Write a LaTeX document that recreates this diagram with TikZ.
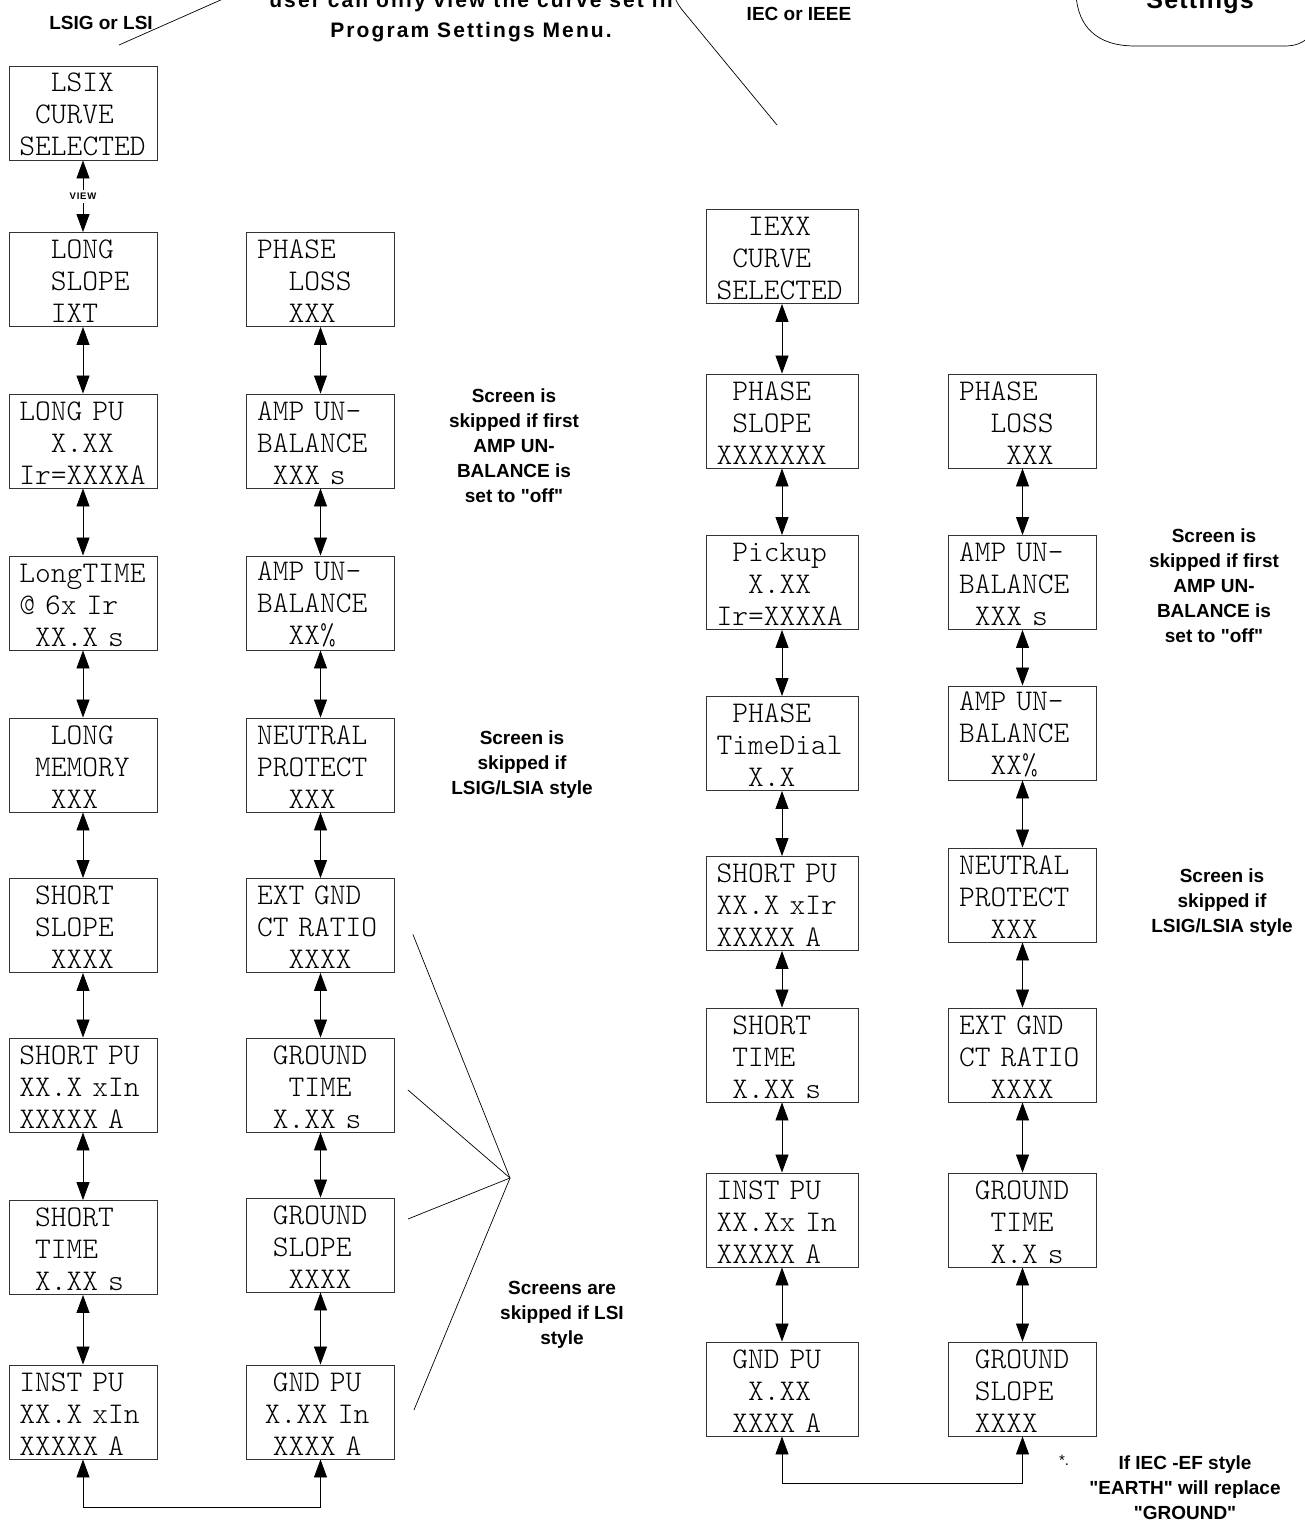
\documentclass[tikz,border=0pt]{standalone}
\usepackage{fontspec}
\usepackage{tikz}
\usetikzlibrary{positioning, calc, arrows.meta}
\newfontfamily\notefont{Liberation Sans}
\newlength\lcdch
\setlength\lcdch{15.75pt}
\newcommand\lcdind[1]{\hspace*{#1\lcdch}}
\newcommand\lcdfont{\fontsize{30}{32}\selectfont\fontseries{l}\ttfamily}
\newcommand\lcdtop{\rule{0pt}{22.3pt}}

\begin{document}
\begin{tikzpicture}[x=1pt, y=-1pt,
    box/.style={draw=black!80, line width=0.9pt, minimum height=94pt, inner ysep=0pt,
                inner xsep=10.5pt, text width=127pt, align=left, font=\lcdfont},
    wide/.style={text width=131pt},
    note/.style={align=center, inner sep=0pt, font=\notefont\bfseries\fontsize{19}{25}\selectfont},
    lnk/.style={{Triangle[length=18pt,width=13pt]}-{Triangle[length=18pt,width=13pt]}, line width=0.8pt},
    ptr/.style={line width=0.7pt},
    viewlbl/.style={fill=white, inner sep=3pt,
                    font=\notefont\bfseries\fontsize{9.5}{10}\selectfont\addfontfeature{LetterSpace=8}}]
  \fill[white] (0,0) rectangle (1305,1522);
  \useasboundingbox (0,0) rectangle (1305,1522);

  \node[note, anchor=south, font=\notefont\bfseries\fontsize{21}{30}\selectfont\addfontfeature{LetterSpace=10}]
        (menu) at (471,42) {user can only view the curve set in\\Program Settings Menu.};
  \node[note] (lsig) at (101,23) {LSIG or LSI};
  \node[note] (iec) at (799,14) {IEC or IEEE};
  \node[note, anchor=base, font=\notefont\bfseries\fontsize{25}{30}\selectfont\addfontfeature{LetterSpace=5}]
        (sett) at (1200,9) {Settings};

  \node[box] (lsix)   at (83,113)    {\lcdtop\lcdind{2}LSIX\\\lcdind{1}CURVE\\SELECTED};
  \node[box] (lslope) at (83,279.5)  {\lcdtop\lcdind{2}LONG\\\lcdind{2}SLOPE\\\lcdind{2}IXT};
  \node[box] (lpu)    at (83,441)    {\lcdtop LONG PU\\\lcdind{2}X.XX\\Ir=XXXXA};
  \node[box] (ltime)  at (83,603)    {\lcdtop LongTIME\\@ 6x Ir\\\lcdind{1}XX.X s};
  \node[box] (lmem)   at (83,765)    {\lcdtop\lcdind{2}LONG\\\lcdind{1}MEMORY\\\lcdind{2}XXX};
  \node[box] (sslope) at (83,925.5)  {\lcdtop\lcdind{1}SHORT\\\lcdind{1}SLOPE\\\lcdind{2}XXXX};
  \node[box] (spu)    at (83,1085)   {\lcdtop SHORT PU\\XX.X xIn\\XXXXX A};
  \node[box] (stime)  at (83,1247.5) {\lcdtop\lcdind{1}SHORT\\\lcdind{1}TIME\\\lcdind{1}X.XX s};
  \node[box] (ipu)    at (83,1412)   {\lcdtop INST PU\\XX.X xIn\\XXXXX A};

  \node[box] (ploss)  at (320.5,279.5) {\lcdtop PHASE\\\lcdind{2}LOSS\\\lcdind{2}XXX};
  \node[box] (aub1)   at (320.5,441)   {\lcdtop AMP UN-\\BALANCE\\\lcdind{1}XXX s};
  \node[box] (aub2)   at (320.5,603)   {\lcdtop AMP UN-\\BALANCE\\\lcdind{2}XX\%};
  \node[box] (neut)   at (320.5,765)   {\lcdtop NEUTRAL\\PROTECT\\\lcdind{2}XXX};
  \node[box] (extct)  at (320.5,925.5) {\lcdtop EXT GND\\CT RATIO\\\lcdind{2}XXXX};
  \node[box] (gtime)  at (320.5,1085)  {\lcdtop\lcdind{1}GROUND\\\lcdind{2}TIME\\\lcdind{1}X.XX s};
  \node[box] (gslope) at (320.5,1245)  {\lcdtop\lcdind{1}GROUND\\\lcdind{1}SLOPE\\\lcdind{2}XXXX};
  \node[box] (gpu)    at (320.5,1412)  {\lcdtop\lcdind{1}GND PU\\\lcdind{0.5}X.XX In\\\lcdind{1}XXXX A};

  \node[box, wide] (iexx)   at (782,256.5)  {\lcdtop\lcdind{2}IEXX\\\lcdind{1}CURVE\\SELECTED};
  \node[box, wide] (pslope) at (782,421)    {\lcdtop\lcdind{1}PHASE\\\lcdind{1}SLOPE\\XXXXXXX};
  \node[box, wide] (pick)   at (782,582.5)  {\lcdtop\lcdind{1}Pickup\\\lcdind{2}X.XX\\Ir=XXXXA};
  \node[box, wide] (pdial)  at (782,743.5)  {\lcdtop\lcdind{1}PHASE\\TimeDial\\\lcdind{2}X.X};
  \node[box, wide] (spuR)   at (782,903.5)  {\lcdtop SHORT PU\\XX.X xIr\\XXXXX A};
  \node[box, wide] (stimeR) at (782,1055)   {\lcdtop\lcdind{1}SHORT\\\lcdind{1}TIME\\\lcdind{1}X.XX s};
  \node[box, wide] (ipuR)   at (782,1220)   {\lcdtop INST PU\\XX.Xx In\\XXXXX A};
  \node[box, wide] (gpuR)   at (782,1389)   {\lcdtop\lcdind{1}GND PU\\\lcdind{2}X.XX\\\lcdind{1}XXXX A};

  \node[box] (plossR)  at (1022.5,421)   {\lcdtop PHASE\\\lcdind{2}LOSS\\\lcdind{3}XXX};
  \node[box] (aub1R)   at (1022.5,582.5) {\lcdtop AMP UN-\\BALANCE\\\lcdind{1}XXX s};
  \node[box] (aub2R)   at (1022.5,733)   {\lcdtop AMP UN-\\BALANCE\\\lcdind{2}XX\%};
  \node[box] (neutR)   at (1022.5,895)   {\lcdtop NEUTRAL\\PROTECT\\\lcdind{2}XXX};
  \node[box] (extctR)  at (1022.5,1055)  {\lcdtop EXT GND\\CT RATIO\\\lcdind{2}XXXX};
  \node[box] (gtimeR)  at (1022.5,1220)  {\lcdtop\lcdind{1}GROUND\\\lcdind{2}TIME\\\lcdind{2}X.X s};
  \node[box] (gslopeR) at (1022.5,1389)  {\lcdtop\lcdind{1}GROUND\\\lcdind{1}SLOPE\\\lcdind{1}XXXX};

  \node[note] (skipA)  at (514,446)  {Screen is\\skipped if first\\AMP UN-\\BALANCE is\\set to \textquotedbl off\textquotedbl};
  \node[note] (skipB)  at (522,765)  {Screen is\\skipped if\\LSIG/LSIA style};
  \node[note] (skipC)  at (562,1315) {Screens are\\skipped if LSI\\style};
  \node[note] (skipAR) at (1214,586) {Screen is\\skipped if first\\AMP UN-\\BALANCE is\\set to \textquotedbl off\textquotedbl};
  \node[note] (skipBR) at (1222,903) {Screen is\\skipped if\\LSIG/LSIA style};
  \node[note, font=\notefont\fontsize{15}{19}\selectfont] (star) at (1064,1460) {*.};
  \node[note] (earth)  at (1185,1488) {If IEC -EF style\\\textquotedbl EARTH\textquotedbl{} will replace\\\textquotedbl GROUND\textquotedbl};

  \draw[lnk] (lsix) -- node[viewlbl] {VIEW} (lslope);
  \draw[lnk] (lslope) -- (lpu);
  \draw[lnk] (lpu) -- (ltime);
  \draw[lnk] (ltime) -- (lmem);
  \draw[lnk] (lmem) -- (sslope);
  \draw[lnk] (sslope) -- (spu);
  \draw[lnk] (spu) -- (stime);
  \draw[lnk] (stime) -- (ipu);
  \draw[lnk] (ploss) -- (aub1);
  \draw[lnk] (aub1) -- (aub2);
  \draw[lnk] (aub2) -- (neut);
  \draw[lnk] (neut) -- (extct);
  \draw[lnk] (extct) -- (gtime);
  \draw[lnk] (gtime) -- (gslope);
  \draw[lnk] (gslope) -- (gpu);
  \draw[lnk] (ipu.south) -- ++(0,48) -| (gpu.south);

  \draw[lnk] (iexx) -- (pslope);
  \draw[lnk] (pslope) -- (pick);
  \draw[lnk] (pick) -- (pdial);
  \draw[lnk] (pdial) -- (spuR);
  \draw[lnk] (spuR) -- (stimeR);
  \draw[lnk] (stimeR) -- (ipuR);
  \draw[lnk] (ipuR) -- (gpuR);
  \draw[lnk] (plossR) -- (aub1R);
  \draw[lnk] (aub1R) -- (aub2R);
  \draw[lnk] (aub2R) -- (neutR);
  \draw[lnk] (neutR) -- (extctR);
  \draw[lnk] (extctR) -- (gtimeR);
  \draw[lnk] (gtimeR) -- (gslopeR);
  \draw[lnk] (gpuR.south) -- ++(0,47) -| (gslopeR.south);

  \coordinate (hub) at (510,1178);
  \coordinate (p1) at ($(extct.east)+(18,9)$);
  \coordinate (p2) at ($(gtime.east)+(13,5)$);
  \coordinate (p3) at ($(gslope.east)+(13,-26)$);
  \coordinate (p4) at ($(gpu.east)+(19,-2)$);
  \draw[ptr] (p1) -- (hub) -- (p4);
  \draw[ptr] (p2) -- (hub) -- (p3);

  \coordinate (lsigtip) at (119,45);
  \coordinate (lsigout) at (232,-5);
  \draw[ptr] (lsigtip) -- (lsigout);
  \coordinate (iecA) at (673,-8);
  \coordinate (iecB) at (777,125);
  \draw[ptr] (iecA) to[out=-75, in=130] (688,17) -- (iecB);
  \coordinate (settA) at (1076,-5);
  \draw[ptr] (settA) .. controls (1078,25) and (1095,46) .. (1135,46) -- (1285,46)
        .. controls (1297,46) and (1303,42) .. (1308,38);
\end{tikzpicture}
\end{document}
